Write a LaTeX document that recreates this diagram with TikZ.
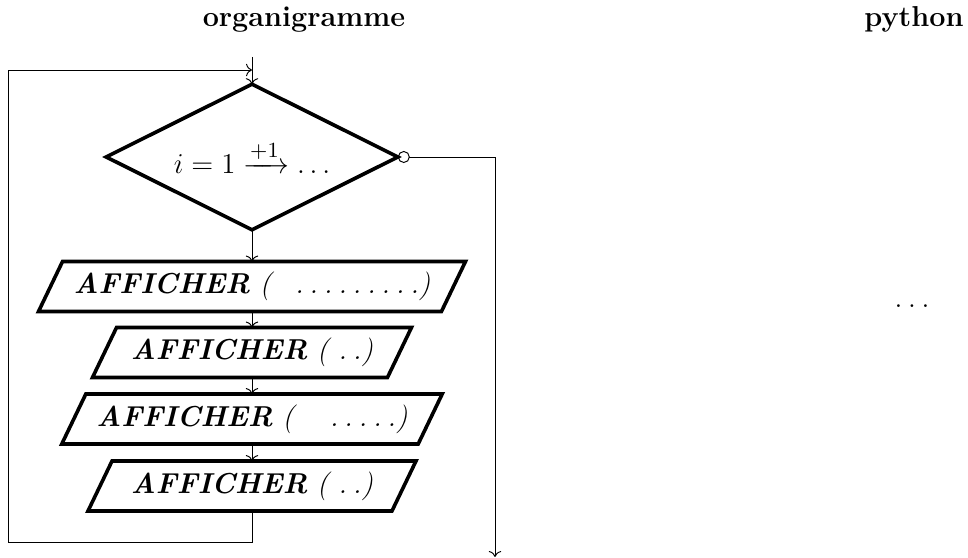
\documentclass[tikz,border=0pt]{standalone}
\usepackage{amsmath}
\usetikzlibrary{calc,arrows.meta}
\newcommand\dt{.\kern2.4pt}
\begin{document}
\begin{tikzpicture}[x=0.41667pt,y=-0.41667pt,
  conn/.style={->, line width=0.4pt},
  shapeline/.style={line width=1.5pt},
  pgtext/.style={inner sep=0pt, minimum height=20.4pt, font=\large},
  title/.style={font=\large\bfseries, anchor=base}]
\useasboundingbox (0,0) rectangle (968,558);
\node[title] (torg) at (304,27) {organigramme};
\node[title] (tpy) at (914,27) {python};
\node[font=\large, inner sep=0pt, anchor=base] (rdots) at (912,308) {\dt\dt.};
\node[inner sep=0pt, outer sep=0.75pt, minimum width=120pt, minimum height=59.2pt, font=\fontsize{12.8}{15}\selectfont] (d) at (252,157) {$i=1\xrightarrow{+1}\ldots$};
\draw[shapeline] (d.north) -- (d.east) -- (d.south) -- (d.west) -- cycle;
\node[pgtext, minimum width=167.5pt] (p1) at (252,286.5) {\textbf{\textit{AFFICHER}} \textit{(\hspace{10pt}\dt\dt\dt\dt\dt\dt\dt\dt.)}};
\node[pgtext, minimum width=122.5pt] (p2) at (252,352.5) {\textbf{\textit{AFFICHER}} \textit{( \dt.)}};
\node[pgtext, minimum width=148.1pt] (p3) at (252,419) {\textbf{\textit{AFFICHER}} \textit{(\hspace{15pt}\dt\dt\dt\dt.)}};
\node[pgtext, minimum width=126.25pt] (p4) at (252,486) {\textbf{\textit{AFFICHER}} \textit{( \dt.)}};
\foreach \p in {p1,p2,p3,p4}
  \draw[shapeline] ($(\p.north west)+(12,0)$) -- ($(\p.north east)+(12,0)$) -- ($(\p.south east)+(-12,0)$) -- ($(\p.south west)+(-12,0)$) -- cycle;
\coordinate (top) at (252,57);
\coordinate (loopA) at (8,542);
\coordinate (loopB) at (8,70);
\coordinate (exitC) at (495,557);
\draw[conn] (top) -- (d.north);
\draw[conn] (d.south) -- (p1.north);
\draw[conn] (p1.south) -- (p2.north);
\draw[conn] (p2.south) -- (p3.north);
\draw[conn] (p3.south) -- (p4.north);
\draw[conn] (p4.south) |- (loopA) -- (loopB) -- (d.north |- loopB);
\draw[line width=0.4pt, {Circle[open,length=5pt]}->] (d.east) -| (exitC);
\end{tikzpicture}
\end{document}
